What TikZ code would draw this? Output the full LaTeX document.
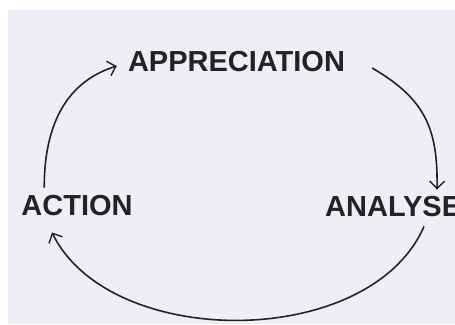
\documentclass[tikz,border=0pt]{standalone}
\usepackage{fontspec}
\setmainfont{Liberation Sans}
\usepackage{tikz}
\usetikzlibrary{arrows.meta}
\definecolor{PaperLilac}{HTML}{EEEEF8}
\definecolor{InkGray}{HTML}{232326}
\tikzset{
  stage/.style    = {font=\fontsize{29}{34}\selectfont\bfseries, text=InkGray,
                     inner sep=0pt},
  cycleline/.style = {-{Straight Barb[length=7.5pt,width=15pt,line width=1.4pt]},
                     line width=1.6pt, draw=InkGray},
}

\begin{document}
\begin{tikzpicture}[x=1pt,y=1pt]
  \clip (0,0) rectangle (455,324);
  \fill[white] (0,0) rectangle (455,324);
  \fill[PaperLilac] (8,0) rectangle (455,314);
  \node[stage] (appr) at (236.5,262) {APPRECIATION};
  \node[stage] (action) at (77,118) {ACTION};
  \node[stage, anchor=west] (analyse) at (325,117) {ANALYSE};
  \draw[cycleline] ([xshift=23pt,yshift=8pt]action.north west)
    .. controls +(0,74) and +(-42,-13) .. ([xshift=-11pt,yshift=-4pt]appr.west);
  \draw[cycleline] ([xshift=27pt,yshift=-6pt]appr.east)
    .. controls +(53,-31) and +(1,61) .. ([xshift=112pt,yshift=7pt]analyse.north west);
  \draw[cycleline] ([xshift=99pt,yshift=-9pt]analyse.south west)
    .. controls +(-54,-124) and +(58,-118) .. ([xshift=-25pt,yshift=-16pt]action.south);
\end{tikzpicture}
\end{document}
